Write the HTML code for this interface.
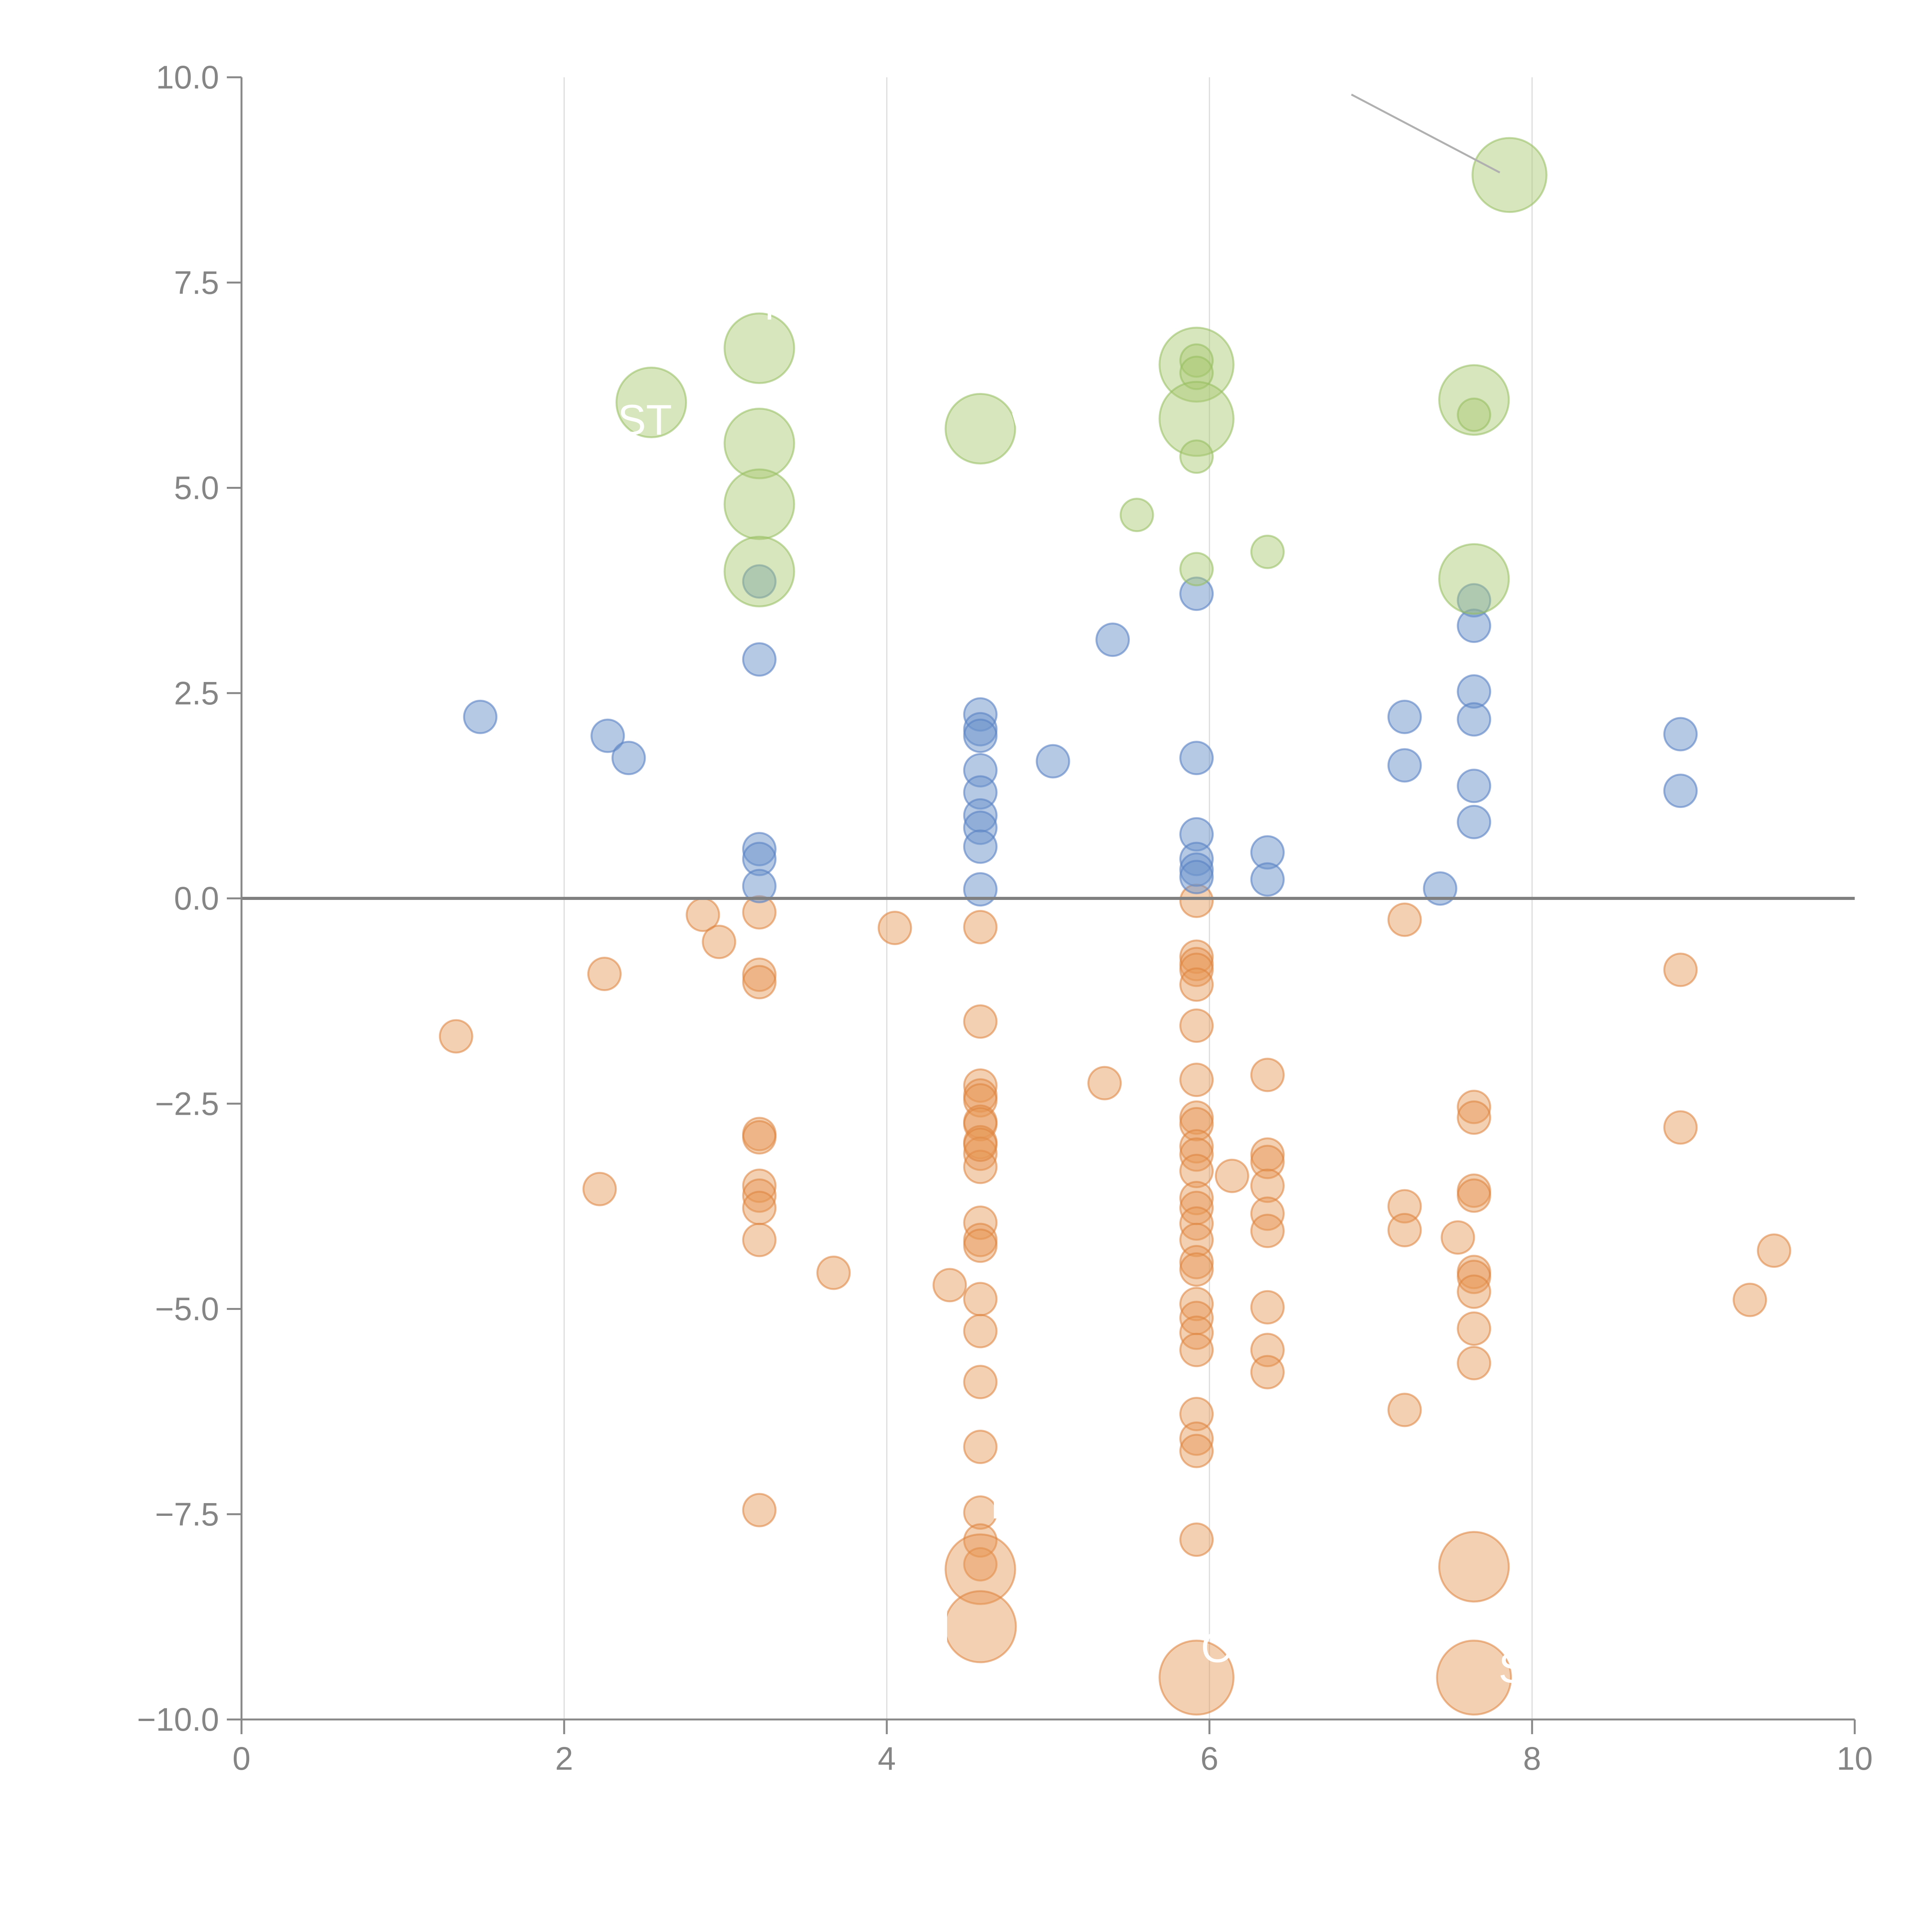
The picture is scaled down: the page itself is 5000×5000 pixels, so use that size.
<!DOCTYPE html>
<html><head><meta charset="utf-8">
<style>html,body{margin:0;padding:0;background:#fff}svg{display:block}text{font-family:"Liberation Sans",Arial,sans-serif}</style>
</head><body>
<svg id="chart" width="5000" height="5000" viewBox="0 0 5000 5000" xmlns="http://www.w3.org/2000/svg">
<g id="grid"></g>
<g id="marks"></g>
<g id="axes"></g>
<g id="labels"></g>
</svg>
<script>
const xTicks=[0,2,4,6,8,10];
const yTicks=[-10,-7.5,-5,-2.5,0,2.5,5,7.5,10];
const yTickLabels=["\u221210.0","\u22127.5","\u22125.0","\u22122.5","0.0","2.5","5.0","7.5","10.0"];
const blueX=[1.48,2.27,2.40,3.21,3.21,3.21,3.21,3.21,4.58,4.58,4.58,4.58,4.58,4.58,4.58,4.58,4.58,5.03,5.40,5.92,5.92,5.92,5.92,5.92,5.92,6.36,6.36,7.21,7.21,7.43,7.64,7.64,7.64,7.64,7.64,7.64,8.92,8.92];
const blueY=[2.21,1.98,1.71,3.86,2.91,0.60,0.48,0.15,2.24,2.06,1.98,1.56,1.29,1.01,0.86,0.63,0.11,1.67,3.15,3.71,1.71,0.78,0.48,0.35,0.26,0.56,0.23,2.21,1.62,0.12,3.63,3.32,2.52,2.18,1.37,0.93,2.0,1.31];
const orangeX=[1.33,2.22,2.25,2.86,2.96,3.21,3.21,3.21,3.21,3.21,3.21,3.21,3.21,3.21,3.21,3.67,4.05,4.39,4.58,4.58,4.58,4.58,4.58,4.58,4.58,4.58,4.58,4.58,4.58,4.58,4.58,4.58,4.58,4.58,4.58,4.58,4.58,4.58,4.58,4.58,4.58,5.35,5.92,5.92,5.92,5.92,5.92,5.92,5.92,5.92,5.92,5.92,5.92,5.92,5.92,5.92,5.92,5.92,5.92,5.92,5.92,5.92,5.92,5.92,5.92,5.92,5.92,5.92,5.92,6.14,6.36,6.36,6.36,6.36,6.36,6.36,6.36,6.36,6.36,7.21,7.21,7.21,7.21,7.54,7.64,7.64,7.64,7.64,7.64,7.64,7.64,7.64,7.64,7.64,7.64,8.92,8.92,9.35,9.50];
const orangeY=[-1.68,-3.54,-0.92,-0.20,-0.53,-0.17,-0.93,-1.02,-2.87,-2.91,-3.50,-3.62,-3.77,-4.16,-7.45,-4.56,-0.36,-4.71,-0.35,-1.50,-2.28,-2.40,-2.46,-2.72,-2.75,-2.97,-3.11,-3.27,-3.95,-4.16,-4.23,-4.88,-5.27,-5.89,-6.68,-7.48,-7.82,-8.11,-8.17,-8.87,-3.0,-2.25,-0.03,-0.71,-0.80,-0.87,-1.05,-1.55,-2.21,-2.67,-2.75,-3.02,-3.12,-3.32,-3.65,-3.77,-3.96,-4.16,-4.43,-4.52,-4.94,-5.11,-5.29,-5.50,-6.28,-6.58,-6.73,-7.81,-9.49,-3.38,-2.15,-3.12,-3.21,-3.50,-3.84,-4.05,-4.98,-5.50,-5.77,-0.26,-3.75,-4.04,-6.23,-4.13,-2.54,-2.67,-3.56,-3.62,-4.55,-4.61,-4.79,-5.24,-5.66,-8.14,-9.49,-0.87,-2.79,-4.89,-4.29];
const orangeS=[1,1,1,1,1,1,1,1,1,1,1,1,1,1,1,1,1,1,1,1,1,1,1,1,1,1,1,1,1,1,1,1,1,1,1,1,1,1,4.6,4.8,1,1,1,1,1,1,1,1,1,1,1,1,1,1,1,1,1,1,1,1,1,1,1,1,1,1,1,1,5.2,1,1,1,1,1,1,1,1,1,1,1,1,1,1,1,1,1,1,1,1,1,1,1,1,4.6,5.2,1,1,1,1];
const greenX=[2.54,3.21,3.21,3.21,3.21,4.58,5.55,5.92,5.92,5.92,5.92,5.92,5.92,6.36,7.64,7.64,7.64,7.86];
const greenY=[6.04,6.70,5.54,4.80,3.98,5.72,4.67,6.50,6.55,6.40,5.84,5.38,4.01,4.22,6.07,5.89,3.89,8.81];
const greenS=[4.6,4.6,4.6,4.6,4.6,4.6,1,5.2,1,1,5.2,1,1,1,4.6,1,4.6,5.2];
const labelText=["M","ST","Q","W","P","N","S","L","I","O"];
const labelX=[3.35,2.5,3.55,4.9,4.73,4.3,7.88,7.9,7.9,6.05];
const labelY=[7.05,5.65,4.8,5.55,-7.55,-9.05,-9.55,4.25,-7.75,-9.3];
const NS="http://www.w3.org/2000/svg";
const X0=625,X1=4800,Y0=4450,Y1=200;
const sx=v=>X0+(v-0)/10*(X1-X0);
const sy=v=>Y0-(v+10)/20*(Y0-Y1);
const rr=s=>42*Math.sqrt(s);
function mk(tag,attrs,parent){const e=document.createElementNS(NS,tag);for(const k in attrs)e.setAttribute(k,attrs[k]);parent.appendChild(e);return e;}
const grid=document.getElementById('grid'),marks=document.getElementById('marks'),axes=document.getElementById('axes'),labels=document.getElementById('labels');
xTicks.forEach(t=>{if(t>0&&t<10){const l=mk('line',{x1:sx(t),x2:sx(t),y1:Y1,y2:Y0,stroke:'#dcdcdc','stroke-width':3},grid);

}});
function series(xs,ys,ss,fill,stroke,name){xs.forEach((x,i)=>{const c=mk('circle',{cx:sx(x),cy:sy(ys[i]),r:rr(ss?ss[i]:1),fill:fill,stroke:stroke,'stroke-width':5},marks);

});}
series(orangeX,orangeY,orangeS,'rgba(231,150,85,0.45)','rgba(220,130,60,0.55)','orange-bubble');
series(blueX,blueY,null,'rgba(108,147,204,0.5)','rgba(90,130,195,0.6)','blue-bubble');
series(greenX,greenY,greenS,'rgba(168,200,110,0.45)','rgba(150,190,95,0.55)','green-bubble');
const z=mk('line',{x1:X0,x2:X1,y1:sy(0),y2:sy(0),stroke:'#808080','stroke-width':8},axes);


const an=mk('line',{x1:sx(6.88),x2:sx(7.8),y1:sy(9.79),y2:sy(8.84),stroke:'#b0b0b0','stroke-width':5},axes);


const ya=mk('line',{x1:X0,x2:X0,y1:Y1,y2:Y0,stroke:'#888','stroke-width':5},axes);


const xa=mk('line',{x1:X0,x2:X1,y1:Y0,y2:Y0,stroke:'#888','stroke-width':5},axes);


yTicks.forEach((t,i)=>{mk('line',{x1:X0-38,x2:X0,y1:sy(t),y2:sy(t),stroke:'#888','stroke-width':5},axes);
const tx=mk('text',{x:X0-58,y:sy(t)+29,'text-anchor':'end','font-size':84,fill:'#858585'},axes);tx.textContent=yTickLabels[i];

});
xTicks.forEach(t=>{mk('line',{x1:sx(t),x2:sx(t),y1:Y0,y2:Y0+38,stroke:'#888','stroke-width':5},axes);
const tx=mk('text',{x:sx(t),y:Y0+130,'text-anchor':'middle','font-size':84,fill:'#858585'},axes);tx.textContent=String(t);

});
labelText.forEach((s,i)=>{const tx=mk('text',{x:sx(labelX[i]),y:sy(labelY[i]),'text-anchor':'middle','font-size':110,fill:'#ffffff'},labels);tx.textContent=s;

});
</script>
</body></html>
